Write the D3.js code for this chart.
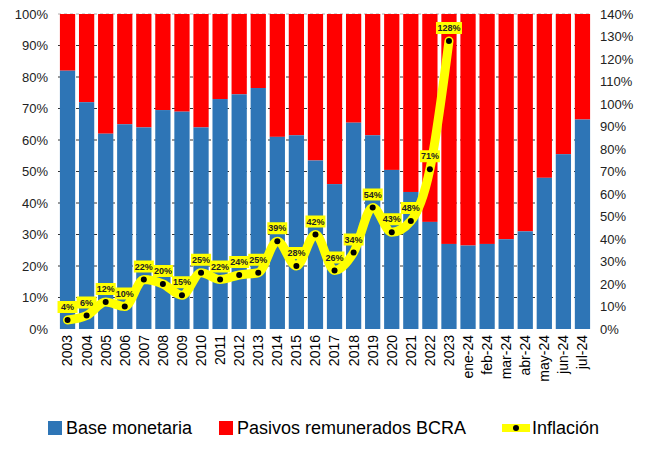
<!DOCTYPE html>
<html><head><meta charset="utf-8">
<script src="https://cdn.jsdelivr.net/npm/d3@7"></script>
<style>body{margin:0;background:#fff}text{font-family:"Liberation Sans",Arial,sans-serif}</style>
</head><body><svg width="650" height="450"></svg>
<script>
var categories = ["2003","2004","2005","2006","2007","2008","2009","2010","2011","2012","2013","2014","2015","2016","2017","2018","2019","2020","2021","2022","2023","ene-24","feb-24","mar-24","abr-24","may-24","jun-24","jul-24"];
var baseMonetaria = [82,72,62,65,64,69.5,69,64,73,74.5,76.5,61,61.5,53.5,46,65.5,61.5,50.5,43.5,34,27,26.5,27,28.5,31,48,55.5,66.5];
var inflacion = [4,6,12,10,22,20,15,25,22,24,25,39,28,42,26,34,54,43,48,71,128];
var leftTicks = [0,10,20,30,40,50,60,70,80,90,100];
var rightTicks = [0,10,20,30,40,50,60,70,80,90,100,110,120,130,140];

var svg = d3.select("svg");
var mLeft = 58, mRight = 592, mTop = 14, mBottom = 329;

var x = d3.scaleBand().domain(categories).range([mLeft, mRight]).paddingInner(0.2).paddingOuter(0.1);
var y = d3.scaleLinear().domain([0,100]).range([mBottom, mTop]);
var y2 = d3.scaleLinear().domain([0,140]).range([mBottom, mTop]);

// gridlines
svg.append("g").selectAll("line").data(leftTicks.slice(1)).join("line")
  .attr("x1", mLeft).attr("x2", mRight)
  .attr("y1", d => y(d)).attr("y2", d => y(d))
  .attr("stroke", d => d == 100 ? "#999" : "#000").attr("stroke-width", 0.8)
  .attr("stroke-dasharray", "3,3");

// bars
var bars = svg.append("g").selectAll("g").data(categories).join("g");
bars.append("rect").attr("x", d => x(d)).attr("width", x.bandwidth())
  .attr("y", y(100)).attr("height", (d, i) => y(baseMonetaria[i]) - y(100))
  .attr("fill", "#ff0000");
bars.append("rect").attr("x", d => x(d)).attr("width", x.bandwidth())
  .attr("y", (d, i) => y(baseMonetaria[i])).attr("height", (d, i) => mBottom - y(baseMonetaria[i]))
  .attr("fill", "#2e75b6");

// axes
var axL = svg.append("g").attr("transform", "translate(" + mLeft + ",0)")
  .call(d3.axisLeft(y).tickValues(leftTicks).tickFormat(d => d + "%").tickSize(0).tickPadding(10));
var axR = svg.append("g").attr("transform", "translate(" + mRight + ",0)")
  .call(d3.axisRight(y2).tickValues(rightTicks).tickFormat(d => d + "%").tickSize(0).tickPadding(8));
[axL, axR].forEach(a => { a.select(".domain").remove(); a.selectAll("text").attr("font-size", 13).attr("fill", "#222"); });

var axB = svg.append("g").attr("transform", "translate(0," + mBottom + ")")
  .call(d3.axisBottom(x).tickSize(0));
axB.select(".domain").remove();
axB.selectAll("text").attr("font-size", 14).attr("fill", "#000")
  .attr("transform", "rotate(-90)").attr("text-anchor", "end")
  .attr("y", 0).attr("x", -6).attr("dy", "0.35em");

// inflation line
var pts = inflacion.map((v, i) => [x(categories[i]) + x.bandwidth() / 2, y2(v), v]);
svg.append("path").datum(pts)
  .attr("d", d3.line().curve(d3.curveMonotoneX))
  .attr("fill", "none").attr("stroke", "#ffff00").attr("stroke-width", 9)
  .attr("stroke-linejoin", "round").attr("stroke-linecap", "round");
svg.append("g").selectAll("circle").data(pts).join("circle")
  .attr("cx", d => d[0]).attr("cy", d => d[1]).attr("r", 3).attr("fill", "#000");
var lab = svg.append("g").selectAll("g").data(pts).join("g")
  .attr("transform", d => "translate(" + d[0] + "," + (d[1] - 13) + ")");
lab.append("rect").attr("x", d => d[2] >= 100 ? -13 : -10).attr("y", -6)
  .attr("width", d => d[2] >= 100 ? 26 : 20).attr("height", 12).attr("fill", "#ffff00");
lab.append("text").attr("text-anchor", "middle").attr("dy", "0.35em")
  .attr("font-size", 9).attr("font-weight", "bold").attr("fill", "#222")
  .text(d => d[2] + "%");

// legend
var lg = svg.append("g").attr("transform", "translate(0,428)");
lg.append("rect").attr("x", 48).attr("y", -7).attr("width", 14).attr("height", 14).attr("fill", "#2e75b6");
lg.append("text").attr("x", 66).attr("dy", "0.35em").attr("font-size", 18).text("Base monetaria");
lg.append("rect").attr("x", 219).attr("y", -7).attr("width", 14).attr("height", 14).attr("fill", "#ff0000");
lg.append("text").attr("x", 237).attr("dy", "0.35em").attr("font-size", 18).text("Pasivos remunerados BCRA");
lg.append("line").attr("x1", 502).attr("x2", 530).attr("stroke", "#ffff00").attr("stroke-width", 8);
lg.append("circle").attr("cx", 516).attr("r", 3).attr("fill", "#000");
lg.append("text").attr("x", 532).attr("dy", "0.35em").attr("font-size", 18).text("Inflación");
</script></body></html>
